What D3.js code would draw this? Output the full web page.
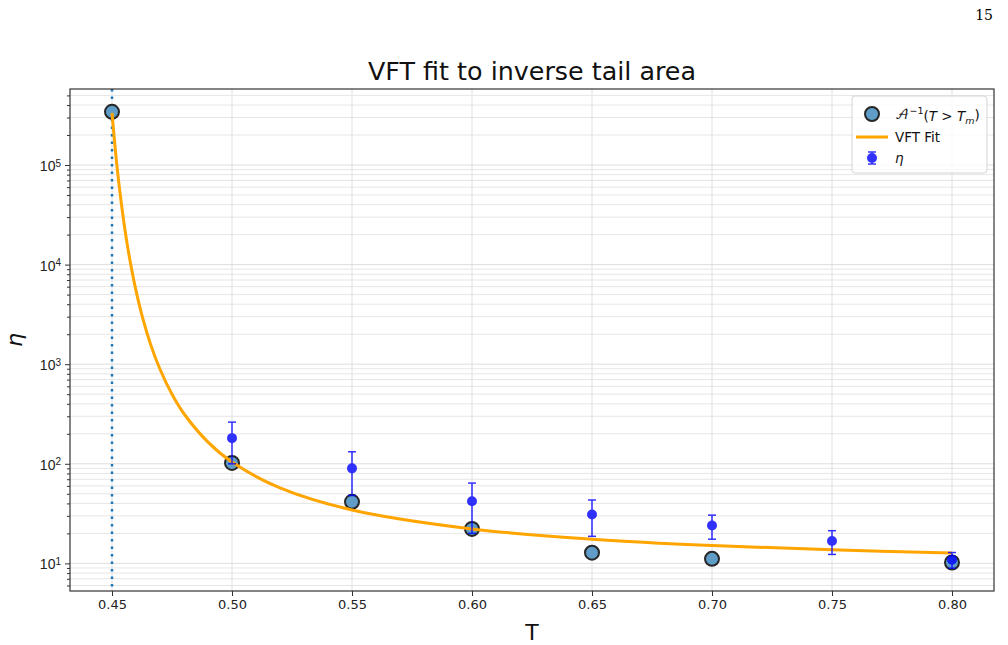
<!DOCTYPE html>
<html>
<head>
<meta charset="utf-8">
<script src="https://cdn.jsdelivr.net/npm/d3@7"></script>
<style>
  body { margin: 0; background: #fff; }
  svg { font-family: "DejaVu Sans", sans-serif; }
</style>
</head>
<body>
<div id="chart"></div>
<script>
// inverse tail area points
const areaT = [0.45, 0.50, 0.55, 0.60, 0.65, 0.70, 0.80];
const areaInv = [342000, 102, 41.5, 22.2, 12.8, 11.1, 10.2];

// eta with error bars
const etaT = [0.50, 0.55, 0.60, 0.65, 0.70, 0.75, 0.80];
const etaVal = [181, 90, 42, 31, 24, 16.8, 10.9];
const etaErr = [81, 42, 22, 12.3, 6.5, 4.5, 1.95];

// VFT fit curve
const fitT = [0.450, 0.452, 0.454, 0.456, 0.458, 0.460, 0.463, 0.466, 0.470, 0.475,
              0.480, 0.490, 0.500, 0.520, 0.550, 0.600, 0.650, 0.700, 0.750, 0.800];
const fitEta = [333000, 101000, 39200, 18000, 9460, 5480, 2780, 1600, 889, 499,
                318, 165, 104, 57.3, 34.4, 22.2, 17.5, 15.1, 13.7, 12.7];

const xTicks = [0.45, 0.50, 0.55, 0.60, 0.65, 0.70, 0.75, 0.80];
const yTicks = [1e1, 1e2, 1e3, 1e4, 1e5];
const vLineT = 0.45;

const width = 1008, height = 645;
const plotLeft = 70, plotRight = 994, plotTop = 89, plotBottom = 591;

const svg = d3.select("#chart").append("svg")
  .attr("width", width)
  .attr("height", height);

// autoscale like matplotlib: 5% margins (log space on y)
let xmin = d3.min(areaT.concat(etaT)), xmax = d3.max(areaT.concat(etaT));
let xpad = (xmax - xmin) * 0.05;
let x = d3.scaleLinear().domain([xmin - xpad, xmax + xpad]).range([plotLeft, plotRight]);

let lows = etaVal.map((v, i) => v - etaErr[i]).concat(areaInv);
let highs = etaVal.map((v, i) => v + etaErr[i]).concat(areaInv, fitEta);
let lo = Math.log10(d3.min(lows)), hi = Math.log10(d3.max(highs));
let ypad = (hi - lo) * 0.05;
let y = d3.scaleLog().domain([Math.pow(10, lo - ypad), Math.pow(10, hi + ypad)]).range([plotBottom, plotTop]);

// minor ticks
let minorTicks = [];
for (let k = 0; k <= 5; k++) {
  for (let m = 2; m <= 9; m++) {
    let v = m * Math.pow(10, k);
    if (v > y.domain()[0] && v < y.domain()[1]) minorTicks.push(v);
  }
}

// page number
svg.append("text")
  .attr("x", 993).attr("y", 20)
  .attr("text-anchor", "end")
  .style("font-family", "'DejaVu Serif', 'Liberation Serif', serif")
  .style("font-size", "14px")
  .text("15");

// grid
let grid = svg.append("g");
grid.selectAll(".ymin").data(minorTicks).enter().append("line")
  .attr("x1", plotLeft).attr("x2", plotRight)
  .attr("y1", d => y(d)).attr("y2", d => y(d))
  .attr("stroke", "#e6e6e6").attr("stroke-width", 1);
grid.selectAll(".ymaj").data(yTicks).enter().append("line")
  .attr("x1", plotLeft).attr("x2", plotRight)
  .attr("y1", d => y(d)).attr("y2", d => y(d))
  .attr("stroke", "#dedede").attr("stroke-width", 1);
grid.selectAll(".xmaj").data(xTicks).enter().append("line")
  .attr("x1", d => x(d)).attr("x2", d => x(d))
  .attr("y1", plotTop).attr("y2", plotBottom)
  .attr("stroke", "#e0e0e0").attr("stroke-width", 1);

// dotted vertical line
svg.append("line")
  .attr("x1", x(vLineT)).attr("x2", x(vLineT))
  .attr("y1", plotTop).attr("y2", plotBottom)
  .attr("stroke", "#1f77b4")
  .attr("stroke-width", 2.5)
  .attr("stroke-dasharray", "2.5,5");

// inverse area markers
svg.append("g").selectAll("circle").data(areaT).enter().append("circle")
  .attr("cx", d => x(d))
  .attr("cy", (d, i) => y(areaInv[i]))
  .attr("r", 7)
  .attr("fill", "#5f9dc8")
  .attr("stroke", "#262626")
  .attr("stroke-width", 2);

// VFT fit line
let line = d3.line()
  .x((d, i) => x(fitT[i]))
  .y(d => y(d))
  .curve(d3.curveCatmullRom.alpha(0.5));
svg.append("path")
  .datum(fitEta)
  .attr("d", line)
  .attr("fill", "none")
  .attr("stroke", "#ffa500")
  .attr("stroke-width", 3);

// eta error bars
let eb = svg.append("g").attr("opacity", 0.8);
etaT.forEach((t, i) => {
  let cx = x(t);
  let y1 = y(etaVal[i] + etaErr[i]), y0 = y(etaVal[i] - etaErr[i]);
  eb.append("line").attr("x1", cx).attr("x2", cx).attr("y1", y1).attr("y2", y0)
    .attr("stroke", "blue").attr("stroke-width", 1.5);
  eb.append("line").attr("x1", cx - 4).attr("x2", cx + 4).attr("y1", y1).attr("y2", y1)
    .attr("stroke", "blue").attr("stroke-width", 1.5);
  eb.append("line").attr("x1", cx - 4).attr("x2", cx + 4).attr("y1", y0).attr("y2", y0)
    .attr("stroke", "blue").attr("stroke-width", 1.5);
  eb.append("circle").attr("cx", cx).attr("cy", y(etaVal[i])).attr("r", 5)
    .attr("fill", "blue");
});

// spines
svg.append("rect")
  .attr("x", plotLeft).attr("y", plotTop)
  .attr("width", plotRight - plotLeft).attr("height", plotBottom - plotTop)
  .attr("fill", "none").attr("stroke", "#333").attr("stroke-width", 1.2);

// x axis
let xAxis = d3.axisBottom(x).tickValues(xTicks).tickFormat(d3.format(".2f"))
  .tickSize(5).tickPadding(4);
let gx = svg.append("g").attr("transform", "translate(0," + plotBottom + ")").call(xAxis);
gx.select(".domain").remove();
gx.selectAll("text").style("font-size", "13px").style("font-family", "'DejaVu Sans', sans-serif").attr("fill", "#222");
gx.selectAll("line").attr("stroke", "#333");

// y axis (major + minor)
let yAxisMinor = d3.axisLeft(y).tickValues(minorTicks).tickSize(3).tickFormat("");
let gym = svg.append("g").attr("transform", "translate(" + plotLeft + ",0)").call(yAxisMinor);
gym.select(".domain").remove();
gym.selectAll("line").attr("stroke", "#333");

let yAxis = d3.axisLeft(y).tickValues(yTicks).tickSize(5).tickPadding(4).tickFormat("");
let gy = svg.append("g").attr("transform", "translate(" + plotLeft + ",0)").call(yAxis);
gy.select(".domain").remove();
gy.selectAll("line").attr("stroke", "#333");
gy.selectAll(".tick").append("text")
  .attr("x", -9).attr("dy", "0.4em")
  .attr("text-anchor", "end")
  .attr("fill", "#222")
  .style("font-size", "14px")
  .each(function(d) {
    let t = d3.select(this);
    t.append("tspan").text("10");
    t.append("tspan").attr("dy", "-0.45em").style("font-size", "10px").text(Math.round(Math.log10(d)));
  });

// title and labels
svg.append("text")
  .attr("x", (plotLeft + plotRight) / 2).attr("y", 80)
  .attr("text-anchor", "middle")
  .style("font-size", "24px")
  .attr("textLength", 328)
  .attr("lengthAdjust", "spacingAndGlyphs")
  .attr("fill", "#111")
  .text("VFT fit to inverse tail area");

svg.append("text")
  .attr("x", (plotLeft + plotRight) / 2).attr("y", 640)
  .attr("text-anchor", "middle")
  .style("font-size", "22px")
  .attr("fill", "#111")
  .text("T");

svg.append("text")
  .attr("transform", "translate(22," + ((plotTop + plotBottom) / 2) + ") rotate(-90)")
  .attr("text-anchor", "middle")
  .style("font-size", "22px")
  .style("font-style", "italic")
  .attr("fill", "#111")
  .text("η");

// legend
let lg = svg.append("g");
lg.append("rect")
  .attr("x", 852).attr("y", 96).attr("width", 135).attr("height", 77).attr("rx", 3)
  .attr("fill", "white").attr("fill-opacity", 0.8)
  .attr("stroke", "#d4d4d4").attr("stroke-width", 1);
lg.append("circle").attr("cx", 872).attr("cy", 114).attr("r", 7)
  .attr("fill", "#5f9dc8").attr("stroke", "#262626").attr("stroke-width", 2);
lg.append("line").attr("x1", 856).attr("x2", 888).attr("y1", 137).attr("y2", 137)
  .attr("stroke", "#ffa500").attr("stroke-width", 3);
let lgEb = lg.append("g").attr("opacity", 0.8);
lgEb.append("line").attr("x1", 872).attr("x2", 872).attr("y1", 152).attr("y2", 164)
  .attr("stroke", "blue").attr("stroke-width", 1.5);
lgEb.append("line").attr("x1", 868).attr("x2", 876).attr("y1", 152).attr("y2", 152)
  .attr("stroke", "blue").attr("stroke-width", 1.5);
lgEb.append("line").attr("x1", 868).attr("x2", 876).attr("y1", 164).attr("y2", 164)
  .attr("stroke", "blue").attr("stroke-width", 1.5);
lgEb.append("circle").attr("cx", 872).attr("cy", 158).attr("r", 5).attr("fill", "blue");

let l1 = lg.append("text").attr("x", 895).attr("y", 119).style("font-size", "13.5px").attr("fill", "#111");
l1.append("tspan").style("font-family", "'DejaVu Math TeX Gyre', 'DejaVu Serif', serif").text("𝒜");
l1.append("tspan").attr("dy", "-0.5em").style("font-size", "9.5px").text("−1");
l1.append("tspan").attr("dy", "0.5em").text("(");
l1.append("tspan").style("font-style", "italic").text("T");
l1.append("tspan").text(" > ");
l1.append("tspan").style("font-style", "italic").text("T");
l1.append("tspan").attr("dy", "0.3em").style("font-size", "9.5px").style("font-style", "italic").text("m");
l1.append("tspan").attr("dy", "-0.3em").text(")");

lg.append("text").attr("x", 895).attr("y", 142).style("font-size", "13.5px").attr("fill", "#111").text("VFT Fit");
lg.append("text").attr("x", 895).attr("y", 163).style("font-size", "13.5px").style("font-style", "italic").attr("fill", "#111").text("η");
</script>
</body>
</html>
